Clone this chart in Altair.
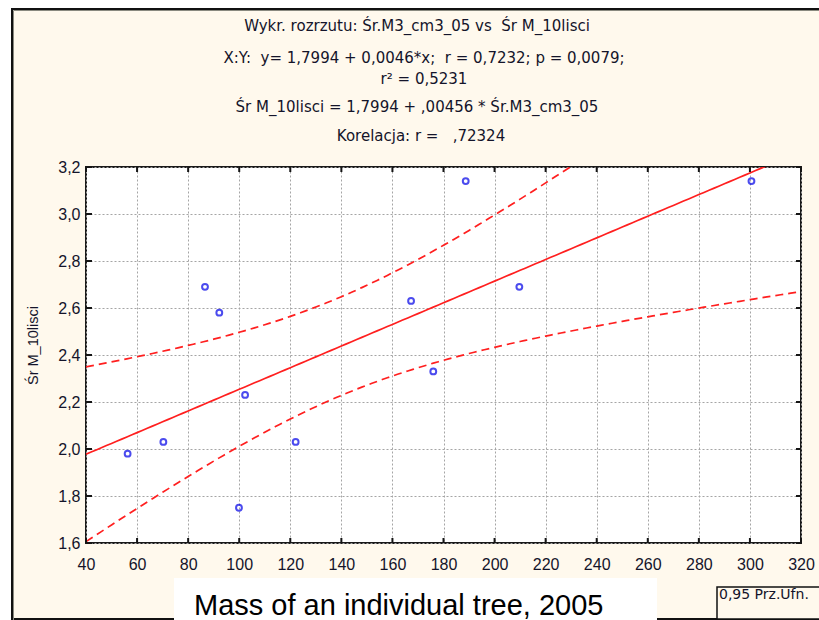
import altair as alt
import pandas as pd
import numpy as np

# ---- data ----
mass_2005 = [56.3, 70.3, 86.6, 92.2, 99.9, 102.3, 122.1, 167.3, 176.0, 188.7, 209.7, 300.6]
leaf_mass = [1.98, 2.03, 2.69, 2.58, 1.75, 2.23, 2.03, 2.63, 2.33, 3.14, 2.69, 3.14]
x_ticks = [40, 60, 80, 100, 120, 140, 160, 180, 200, 220, 240, 260, 280, 300, 320]
y_ticks = [1.6, 1.8, 2.0, 2.2, 2.4, 2.6, 2.8, 3.0, 3.2]
title_lines = [
    "Wykr. rozrzutu: Śr.M3_cm3_05 vs  Śr M_10lisci",
    "X:Y:  y= 1,7994 + 0,0046*x;  r = 0,7232; p = 0,0079;",
    "r² = 0,5231",
    "Śr M_10lisci = 1,7994 + ,00456 * Śr.M3_cm3_05",
    "Korelacja: r =   ,72324",
]
y_title = "Śr M_10lisci"
caption = "Mass of an individual tree, 2005"
legend_text = "0,95 Prz.Ufn."

# ---- least-squares fit and 95% confidence band of the mean ----
xa = np.array(mass_2005)
ya = np.array(leaf_mass)
n = len(xa)
slope, intercept = np.polyfit(xa, ya, 1)
resid = ya - (intercept + slope * xa)
s = np.sqrt(np.sum(resid ** 2) / (n - 2))
sxx = np.sum((xa - xa.mean()) ** 2)
t975 = 2.2281  # Student t, 10 df
grid = np.linspace(40, 320, 141)
fit = intercept + slope * grid
half = t975 * s * np.sqrt(1.0 / n + (grid - xa.mean()) ** 2 / sxx)
curves = pd.DataFrame({"x": grid, "fit": fit, "lo": fit - half, "hi": fit + half})
pts = pd.DataFrame({"x": mass_2005, "y": leaf_mass})

W, H = 715, 376
L, T = 86, 167
xs = alt.Scale(domain=[40, 320], nice=False, zero=False)
ys = alt.Scale(domain=[1.6, 3.2], nice=False, zero=False)

one = pd.DataFrame({"a": [0]})
TF = "DejaVu Sans"
LF = "Liberation Sans"
TXT = "#14142a"


def keep_spaces(s):
    return s.replace("  ", "\u00a0\u00a0")


base_pts = alt.Chart(pts).mark_point(
    shape="circle", filled=False, color="#0000e8", size=34, strokeWidth=2
).encode(
    x=alt.X("x:Q", scale=xs, axis=alt.Axis(
        values=x_ticks, grid=True, gridDash=[2, 2], gridColor="#a5a5a5", gridWidth=1,
        ticks=False, tickSize=0, domain=False, labelFont=LF, labelFontSize=16,
        labelColor=TXT, labelPadding=13, title=None, labelFlush=False)),
    y=alt.Y("y:Q", scale=ys, axis=alt.Axis(
        values=y_ticks, grid=True, gridDash=[2, 2], gridColor="#a5a5a5", gridWidth=1,
        ticks=False, tickSize=0, domain=False, labelFont=LF, labelFontSize=16,
        labelColor=TXT, labelPadding=6, labelFlush=False,
        labelExpr="replace(format(datum.value, '.1f'), '.', ',')",
        title=y_title, titleFont=LF, titleFontSize=14.5, titleFontWeight="normal",
        titleColor=TXT, titleAngle=270, titleAlign="center",
        titleBaseline="middle", titleX=-53, titleY=178)),
)

fit_line = alt.Chart(curves).mark_line(color="#ff1f1f", strokeWidth=1.7, clip=True).encode(
    x=alt.X("x:Q", scale=xs), y=alt.Y("fit:Q", scale=ys))
lo_line = alt.Chart(curves).mark_line(color="#ff1f1f", strokeWidth=1.7, strokeDash=[8, 5], clip=True).encode(
    x=alt.X("x:Q", scale=xs), y=alt.Y("lo:Q", scale=ys))
hi_line = alt.Chart(curves).mark_line(color="#ff1f1f", strokeWidth=1.7, strokeDash=[8, 5], clip=True).encode(
    x=alt.X("x:Q", scale=xs), y=alt.Y("hi:Q", scale=ys))

xt = pd.DataFrame({"v": x_ticks})
yt = pd.DataFrame({"v": y_ticks})
tick_style = dict(color="#151515", strokeWidth=2)
ticks_bottom = alt.Chart(xt).mark_rule(**tick_style).encode(
    x=alt.X("v:Q", scale=xs), y=alt.value(H), y2=alt.value(H - 5))
ticks_top = alt.Chart(xt).mark_rule(**tick_style).encode(
    x=alt.X("v:Q", scale=xs), y=alt.value(0), y2=alt.value(5))
ticks_left = alt.Chart(yt).mark_rule(**tick_style).encode(
    y=alt.Y("v:Q", scale=ys), x=alt.value(0), x2=alt.value(6))
ticks_right = alt.Chart(yt).mark_rule(**tick_style).encode(
    y=alt.Y("v:Q", scale=ys), x=alt.value(W), x2=alt.value(W - 5))

# frame pieces outside the plot area
white_top = alt.Chart(one).mark_rect(color="white").encode(
    x=alt.value(-L), x2=alt.value(819 - L), y=alt.value(-T), y2=alt.value(8 - T))
white_left = alt.Chart(one).mark_rect(color="white").encode(
    x=alt.value(-L), x2=alt.value(11 - L), y=alt.value(-T), y2=alt.value(620 - T))
frame = alt.Chart(one).mark_rect(fill=None, stroke="#111111", strokeWidth=2).encode(
    x=alt.value(12 - L), x2=alt.value(840 - L), y=alt.value(9 - T), y2=alt.value(619 - T))
frame_in = alt.Chart(one).mark_rect(fill=None, stroke="#8a8a80", strokeWidth=1).encode(
    x=alt.value(13.5 - L), x2=alt.value(840 - L), y=alt.value(10.5 - T), y2=alt.value(640 - T))
cap_box = alt.Chart(one).mark_rect(color="white").encode(
    x=alt.value(174 - L), x2=alt.value(657 - L), y=alt.value(578 - T), y2=alt.value(622 - T))
leg_box = alt.Chart(one).mark_rect(fill="#fff9ed", stroke="#111111", strokeWidth=1.5).encode(
    x=alt.value(717 - L), x2=alt.value(840 - L), y=alt.value(587 - T), y2=alt.value(619 - T))

cap_text = alt.Chart(one).mark_text(
    text=caption, font=LF, fontSize=29, align="left", baseline="alphabetic", color="black"
).encode(x=alt.value(194 - L), y=alt.value(615 - T))
leg_text = alt.Chart(one).mark_text(
    text=legend_text, font=TF, fontSize=14, align="left", baseline="alphabetic", color=TXT
).encode(x=alt.value(719 - L), y=alt.value(599 - T))

title_pos = [(417, 31), (424, 63), (424, 84), (417, 112), (421, 141)]
title_layers = []
for line, (cx, by) in zip(title_lines, title_pos):
    title_layers.append(
        alt.Chart(one).mark_text(
            text=keep_spaces(line), font=TF, fontSize=15, align="center", baseline="alphabetic",
            color=TXT
        ).encode(x=alt.value(cx - L), y=alt.value(by - T))
    )

chart = alt.layer(
    white_top, white_left, frame, frame_in, cap_box, leg_box,
    fit_line, lo_line, hi_line, base_pts,
    ticks_bottom, ticks_top, ticks_left, ticks_right,
    cap_text, leg_text, *title_layers,
).properties(
    width=W, height=H,
    autosize=alt.AutoSizeParams(type="none"),
    padding={"left": L, "top": T, "right": 819 - L - W, "bottom": 620 - T - H},
    background="#fff9ed",
).configure_view(
    fill="white", stroke="#1a1a1a", strokeWidth=2
)

chart.save("out.html", embed_options={"renderer": "svg", "actions": False})
